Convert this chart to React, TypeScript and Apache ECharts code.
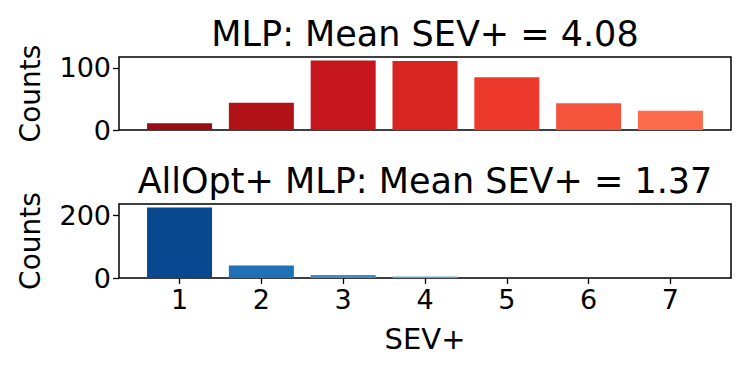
import React, { useEffect, useRef } from "react";
import * as echarts from "echarts";

const categories = [1, 2, 3, 4, 5, 6, 7];
const mlpCounts = [11, 44, 112, 111, 85, 43, 31];
const allOptCounts = [226, 40, 10, 5, 0, 0, 0];
const topTicks = [0, 100];
const bottomTicks = [0, 200];
const topTitle = "MLP: Mean SEV+ = 4.08";
const bottomTitle = "AllOpt+ MLP: Mean SEV+ = 1.37";

const mlpColors = ["#9a0c14", "#b11218", "#c4161c", "#d92522", "#ee3a2c", "#f5533b", "#fb6b4b"];
const allOptColors = ["#08488e", "#2070b4", "#3e8ec4", "#62a6d3", "#9cc9e1", "#c6dbef", "#deebf7"];

const FONT = "DejaVu Sans";

export default function App() {
  const ref = useRef<HTMLDivElement>(null);
  useEffect(() => {
    if (!ref.current) return;
    const chart = echarts.init(ref.current, undefined, { renderer: "svg" });
    const xMin = 0.26;
    const xMax = 7.74;
    const mkX = (gridIndex: number, show: boolean) => ({
      type: "value",
      gridIndex,
      min: xMin,
      max: xMax,
      axisLine: { show: false },
      splitLine: { show: false },
      axisTick: {
        show,
        customValues: categories,
        length: 6,
        lineStyle: { color: "#000", width: 1.3 },
      },
      axisLabel: {
        show,
        customValues: categories,
        color: "#000",
        fontFamily: FONT,
        fontSize: 27,
        margin: 8,
      },
      name: show ? "SEV+" : "",
      nameLocation: "middle",
      nameGap: 46,
      nameTextStyle: { color: "#000", fontFamily: FONT, fontSize: 29 },
    });
    const mkY = (gridIndex: number, max: number, ticks: number[]) => ({
      type: "value",
      gridIndex,
      min: 0,
      max,
      axisLine: { show: false },
      splitLine: { show: false },
      axisTick: {
        show: true,
        customValues: ticks,
        length: 6,
        lineStyle: { color: "#000", width: 1.3 },
      },
      axisLabel: {
        customValues: ticks,
        color: "#000",
        fontFamily: FONT,
        fontSize: 27,
        margin: 8,
      },
      name: "Counts",
      nameLocation: "middle",
      nameRotate: 90,
      nameGap: 75,
      nameTextStyle: { color: "#000", fontFamily: FONT, fontSize: 28 },
    });
    const topMax = Math.max(...mlpCounts) * 1.05;
    const bottomMax = Math.max(...allOptCounts) * 1.05;
    chart.setOption({
      animation: false,
      grid: [
        { left: 119, right: 19, top: 57, height: 73, show: true, borderColor: "#000", borderWidth: 1.5 },
        { left: 119, right: 19, top: 204, height: 74, show: true, borderColor: "#000", borderWidth: 1.5 },
      ],
      xAxis: [mkX(0, false), mkX(1, true)],
      yAxis: [mkY(0, topMax, topTicks), mkY(1, bottomMax, bottomTicks)],
      graphic: [
        {
          type: "text",
          x: 425,
          y: 34,
          style: {
            text: topTitle,
            fill: "#000",
            font: `35px '${FONT}'`,
            textAlign: "center",
            textVerticalAlign: "middle",
          },
        },
        {
          type: "text",
          x: 425,
          y: 181,
          style: {
            text: bottomTitle,
            fill: "#000",
            font: `35px '${FONT}'`,
            textAlign: "center",
            textVerticalAlign: "middle",
          },
        },
      ],
      series: [
        {
          type: "bar",
          xAxisIndex: 0,
          yAxisIndex: 0,
          barWidth: 65,
          data: categories.map((c, i) => ({
            value: [c, mlpCounts[i]],
            itemStyle: { color: mlpColors[i] },
          })),
        },
        {
          type: "bar",
          xAxisIndex: 1,
          yAxisIndex: 1,
          barWidth: 65,
          data: categories.map((c, i) => ({
            value: [c, allOptCounts[i]],
            itemStyle: { color: allOptColors[i] },
          })),
        },
      ],
    });
    return () => chart.dispose();
  }, []);
  return (
    <div
      ref={ref}
      style={{ position: "absolute", left: 0, top: 0, width: 750, height: 375, background: "#fff" }}
    />
  );
}
